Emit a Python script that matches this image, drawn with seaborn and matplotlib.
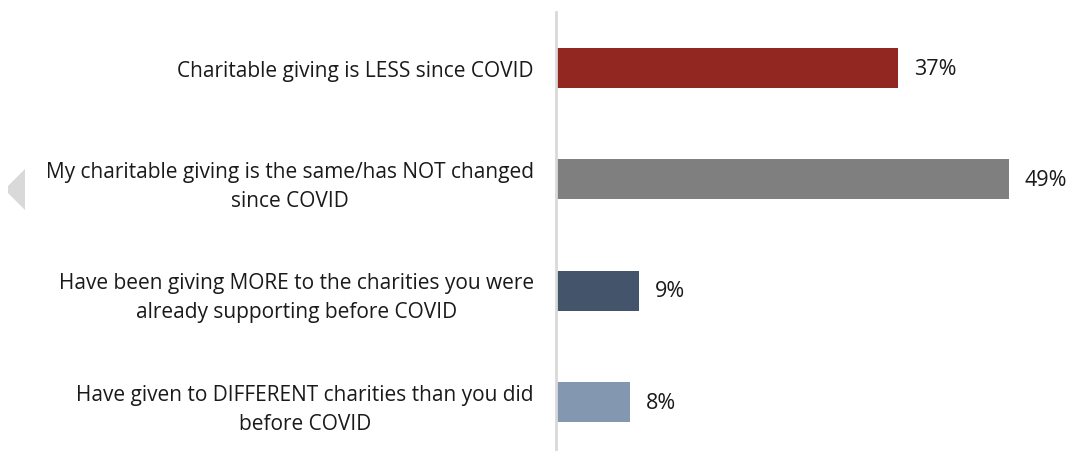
import matplotlib
matplotlib.use("Agg")
import matplotlib.pyplot as plt
import seaborn as sns
import pandas as pd
from matplotlib.patches import Polygon

categories = [
    "Charitable giving is LESS since COVID",
    "My charitable giving is the same/has NOT changed\nsince COVID",
    "Have been giving MORE to the charities you were\nalready supporting before COVID",
    "Have given to DIFFERENT charities than you did\nbefore COVID",
]
values = [37, 49, 9, 8]
value_labels = ["37%", "49%", "9%", "8%"]
colors = ["#922721", "#7f7f7f", "#44546a", "#8497b0"]

sns.set_theme(style="white")
plt.rcParams['font.family'] = ['Open Sans', 'DejaVu Sans']

df = pd.DataFrame({"cat": categories, "val": values})

fig = plt.figure(figsize=(10.68, 4.52), dpi=100)
ax = fig.add_axes([556 / 1068, 0, 1 - 556 / 1068, 1 - 13 / 452])

sns.barplot(data=df, y="cat", x="val", hue="cat", palette=colors,
            orient="h", width=0.36, legend=False, ax=ax, saturation=1,
            linewidth=0)

ax.set_xlim(0, 55.4)
ax.set_ylim(3.44, -0.503)
ax.set_xlabel("")
ax.set_ylabel("")
ax.set_xticks([])
for s in ["top", "right", "bottom"]:
    ax.spines[s].set_visible(False)
ax.spines["left"].set_color("#d9d9d9")
ax.spines["left"].set_linewidth(2)
ax.tick_params(axis="y", length=0, pad=16)
ax.set_yticks(range(len(categories)))
ax.set_yticklabels(categories, fontsize=15, color="#1a1a1a", linespacing=1.5)
for lbl in ax.get_yticklabels():
    lbl.set_horizontalalignment("right")
    lbl.set_multialignment("center")

for i, (v, t) in enumerate(zip(values, value_labels)):
    ax.text(v + 1.7, i, t, va="center", ha="left", fontsize=15.5, color="#1a1a1a")

tri = Polygon([(25 / 1068, 1 - 170 / 452), (8 / 1068, 1 - 187 / 452),
               (8 / 1068, 1 - 194 / 452), (25 / 1068, 1 - 211 / 452)],
              closed=True, transform=fig.transFigure, facecolor="#d9d9d9",
              edgecolor="none")
fig.patches.append(tri)

fig.savefig("out.png", dpi=100)
